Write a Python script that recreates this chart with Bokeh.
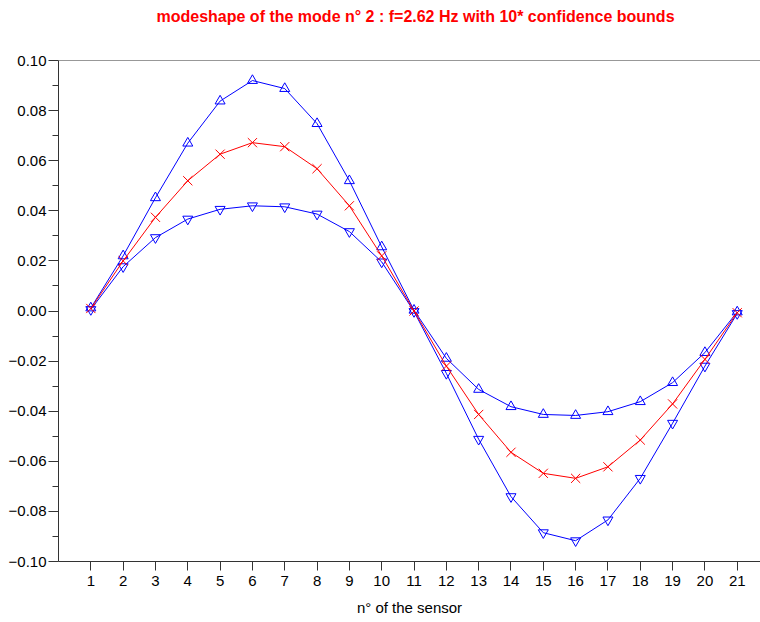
from bokeh.plotting import figure
from bokeh.models import Range1d, FixedTicker, CustomJSTickFormatter, Span, Title
from bokeh.embed import file_html
from bokeh.resources import INLINE

# ---- data -------------------------------------------------------------
sensors = list(range(1, 22))
mode_shape = [0.0010, 0.0200, 0.0374, 0.0520, 0.0626, 0.0672, 0.0656, 0.0568, 0.0420, 0.0220, 0.0000,
              -0.0220, -0.0413, -0.0564, -0.0648, -0.0668, -0.0622, -0.0515, -0.0371, -0.0193, -0.0007]
upper_bound = [0.0012, 0.0220, 0.0452, 0.0670, 0.0838, 0.0920, 0.0888, 0.0748, 0.0520, 0.0256, 0.0003,
               -0.0189, -0.0313, -0.0382, -0.0413, -0.0417, -0.0402, -0.0362, -0.0286, -0.0166, -0.0004]
lower_bound = [0.0006, 0.0177, 0.0293, 0.0367, 0.0406, 0.0420, 0.0416, 0.0387, 0.0317, 0.0196, -0.0002,
               -0.0249, -0.0512, -0.0741, -0.0885, -0.0917, -0.0834, -0.0668, -0.0448, -0.0220, -0.0010]

x_ticks = list(range(1, 22))
y_ticks = [-0.10, -0.08, -0.06, -0.04, -0.02, 0.00, 0.02, 0.04, 0.06, 0.08, 0.10]
y_minor_ticks = [-0.09, -0.07, -0.05, -0.03, -0.01, 0.01, 0.03, 0.05, 0.07, 0.09]

title_text = "modeshape of the mode n° 2 : f=2.62 Hz  with 10* confidence bounds"
x_label = "n° of the sensor"

FONT = "Liberation Sans"
AXIS_COLOR = "#333333"

# ---- figure -------------------------------------------------------------
p = figure(width=760, height=622, output_backend="svg", toolbar_location=None, title=None,
           x_range=Range1d(0, 21.72), y_range=Range1d(-0.10, 0.10),
           min_border_left=58, min_border_right=0, min_border_top=60, min_border_bottom=61)

p.background_fill_color = "white"
p.border_fill_color = "white"
p.outline_line_color = None
p.xgrid.visible = False
p.ygrid.visible = False

# spacer between the frame and the title, then the title itself
p.add_layout(Title(text="\u00a0", text_font_size="1px", standoff=33), "above")
p.add_layout(Title(text=title_text, align="left", offset=98, standoff=0,
                   text_color="#ff0000", text_font=FONT, text_font_size="16px",
                   text_font_style="bold"), "above")

# top frame line
p.add_layout(Span(location=0.10, dimension="width", line_color=AXIS_COLOR, line_width=1))

# x axis
xa = p.xaxis[0]
xa.ticker = FixedTicker(ticks=x_ticks, minor_ticks=[])
xa.axis_label = x_label
xa.axis_label_text_font = FONT
xa.axis_label_text_font_size = "15px"
xa.axis_label_text_font_style = "normal"
xa.axis_label_text_color = "black"
xa.axis_label_standoff = 10
xa.major_label_text_font = FONT
xa.major_label_text_font_size = "15px"
xa.major_label_text_color = "black"
xa.major_label_standoff = 5
xa.major_tick_in = 0
xa.major_tick_out = 9
xa.minor_tick_in = 0
xa.minor_tick_out = 0
xa.axis_line_color = AXIS_COLOR
xa.major_tick_line_color = AXIS_COLOR

# y axis
ya = p.yaxis[0]
ya.ticker = FixedTicker(ticks=y_ticks, minor_ticks=y_minor_ticks)
ya.formatter = CustomJSTickFormatter(code="""
    const v = Math.round(tick * 100) / 100;
    const s = Math.abs(v).toFixed(2);
    return (v < 0 ? '\\u2212' : '') + s;
""")
ya.major_label_text_font = FONT
ya.major_label_text_font_size = "15px"
ya.major_label_text_color = "black"
ya.major_label_standoff = 2
ya.major_tick_in = 0
ya.major_tick_out = 10
ya.minor_tick_in = 0
ya.minor_tick_out = 6
ya.axis_line_color = AXIS_COLOR
ya.major_tick_line_color = AXIS_COLOR
ya.minor_tick_line_color = AXIS_COLOR

# ---- series ---------------------------------------------------------------
BLUE = "#0000ff"
RED = "#ff0000"

p.line(sensors, upper_bound, line_color=BLUE, line_width=1)
p.scatter(sensors, upper_bound, marker="triangle", size=10, fill_color=None,
          line_color=BLUE, line_width=1)

p.line(sensors, lower_bound, line_color=BLUE, line_width=1)
p.scatter(sensors, lower_bound, marker="inverted_triangle", size=10, fill_color=None,
          line_color=BLUE, line_width=1)

p.line(sensors, mode_shape, line_color=RED, line_width=1)
p.scatter(sensors, mode_shape, marker="x", size=13, line_color=RED, line_width=1)

open("out.html", "w").write(file_html(p, INLINE))
